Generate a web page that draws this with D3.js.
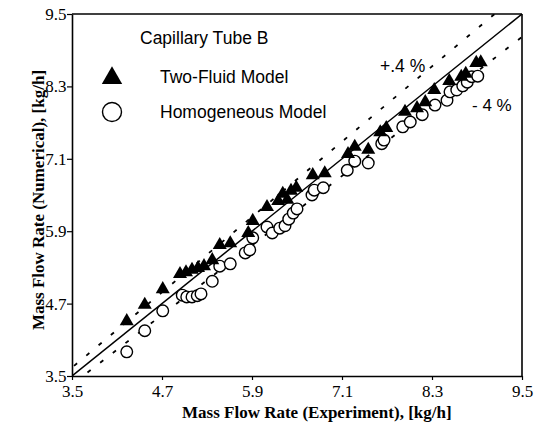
<!DOCTYPE html>
<html><head><meta charset="utf-8">
<script src="https://cdn.jsdelivr.net/npm/d3@7"></script>
<style>body{margin:0;background:#fff}</style>
</head><body>
<script>
const tickValues = [3.5, 4.7, 5.9, 7.1, 8.3, 9.5];
const tickLabels = ["3.5", "4.7", "5.9", "7.1", "8.3", "9.5"];
const twoFluidExp = [4.23,4.47,4.71,4.94,5.02,5.10,5.18,5.26,5.37,5.47,5.61,5.85,5.91,6.10,6.25,6.31,6.37,6.42,6.49,6.71,6.87,7.18,7.27,7.45,7.61,7.69,7.94,8.10,8.21,8.33,8.53,8.69,8.75,8.89,8.95];
const twoFluidNum = [4.41,4.68,4.94,5.19,5.22,5.26,5.29,5.32,5.42,5.67,5.70,5.87,6.07,6.30,6.40,6.52,6.42,6.57,6.62,6.83,6.86,7.18,7.30,7.25,7.54,7.61,7.88,7.94,8.04,8.24,8.39,8.46,8.51,8.69,8.70];
const homogExp = [4.23,4.47,4.71,4.97,5.03,5.10,5.17,5.22,5.37,5.47,5.61,5.81,5.87,5.91,6.10,6.17,6.27,6.34,6.39,6.45,6.50,6.70,6.73,6.85,7.17,7.27,7.45,7.63,7.66,7.91,8.01,8.17,8.34,8.50,8.54,8.63,8.71,8.77,8.83,8.91];
const homogNum = [3.90,4.25,4.58,4.84,4.81,4.81,4.83,4.86,5.07,5.32,5.36,5.54,5.59,5.79,5.97,5.87,5.95,5.99,6.10,6.20,6.27,6.50,6.58,6.62,6.91,7.06,7.03,7.35,7.41,7.63,7.71,7.83,7.99,8.07,8.21,8.24,8.31,8.37,8.46,8.47];
const bandFactors = [1.04, 0.96];

const W = 540, H = 438;
const m = {left: 72, right: 18, top: 14, bottom: 62};
const svg = d3.select("body").append("svg").attr("width", W).attr("height", H);
const x = d3.scaleLinear().domain([3.5, 9.5]).range([m.left, W - m.right]);
const y = d3.scaleLinear().domain([3.5, 9.5]).range([H - m.bottom, m.top]);

svg.append("clipPath").attr("id", "clip").append("rect")
  .attr("x", m.left).attr("y", m.top).attr("width", x(9.5) - m.left).attr("height", y(3.5) - m.top);

const serif = "'Liberation Serif','Times New Roman',serif";
const sans = "'Liberation Sans',Arial,Helvetica,sans-serif";

// reference lines
const lineG = svg.append("g").attr("clip-path", "url(#clip)");
lineG.append("line").attr("x1", x(3.5)).attr("y1", y(3.5)).attr("x2", x(9.5)).attr("y2", y(9.5))
  .attr("stroke", "#000").attr("stroke-width", 1.5);
bandFactors.forEach(f => {
  lineG.append("line").attr("x1", x(3.2)).attr("y1", y(3.2 * f)).attr("x2", x(9.8)).attr("y2", y(9.8 * f))
    .attr("stroke", "#000").attr("stroke-width", 1.8).attr("stroke-dasharray", "4,12");
});

// axes
const xAxis = d3.axisBottom(x).tickValues(tickValues).tickFormat((d, i) => tickLabels[i]).tickSize(4).tickSizeOuter(0);
const yAxis = d3.axisLeft(y).tickValues(tickValues).tickFormat((d, i) => tickLabels[i]).tickSize(5).tickSizeOuter(0);
const gx = svg.append("g").attr("transform", `translate(0,${y(3.5)})`).call(xAxis);
const gy = svg.append("g").attr("transform", `translate(${x(3.5)},0)`).call(yAxis);
[gx, gy].forEach(g => {
  g.select(".domain").attr("stroke", "#000").attr("stroke-width", 1.6);
  g.selectAll(".tick line").attr("stroke", "#000").attr("stroke-width", 1.2);
  g.selectAll(".tick text").attr("font-family", serif).attr("font-size", 17).attr("fill", "#000");
});
gx.selectAll(".tick text").attr("dy", "0.85em");
gy.selectAll(".tick text").attr("dx", "0.15em");
// top and right frame
svg.append("line").attr("x1", x(3.5)).attr("y1", y(9.5)).attr("x2", x(9.5)).attr("y2", y(9.5)).attr("stroke", "#000").attr("stroke-width", 1.6);
svg.append("line").attr("x1", x(9.5)).attr("y1", y(9.5)).attr("x2", x(9.5)).attr("y2", y(3.5)).attr("stroke", "#000").attr("stroke-width", 1.6);

// axis titles
svg.append("text").attr("x", 182).attr("y", 418).attr("font-family", serif).attr("font-size", 17).attr("font-weight", "bold").attr("fill", "#000")
  .text("Mass Flow Rate (Experiment), [kg/h]");
svg.append("text").attr("transform", "translate(44,200) rotate(-90)").attr("text-anchor", "middle")
  .attr("font-family", serif).attr("font-size", 17).attr("font-weight", "bold").attr("fill", "#000")
  .text("Mass Flow Rate (Numerical), [kg/h]");

// data
const homog = homogExp.map((v, i) => [v, homogNum[i]]);
const twoF = twoFluidExp.map((v, i) => [v, twoFluidNum[i]]);
svg.append("g").selectAll("circle").data(homog).join("circle")
  .attr("cx", d => x(d[0])).attr("cy", d => y(d[1])).attr("r", 5.8)
  .attr("fill", "#fff").attr("stroke", "#000").attr("stroke-width", 1.4);
const tri = d3.symbol().type(d3.symbolTriangle).size(85);
svg.append("g").selectAll("path").data(twoF).join("path")
  .attr("d", tri).attr("transform", d => `translate(${x(d[0])},${y(d[1])})`).attr("fill", "#000");

// legend
svg.append("text").attr("x", 140).attr("y", 44).attr("font-family", sans).attr("font-size", 17.5).attr("fill", "#000").text("Capillary Tube B");
svg.append("path").attr("d", d3.symbol().type(d3.symbolTriangle).size(180)()).attr("transform", "translate(112,78)").attr("fill", "#000");
svg.append("text").attr("x", 160).attr("y", 83).attr("font-family", sans).attr("font-size", 17.5).attr("fill", "#000").text("Two-Fluid Model");
svg.append("circle").attr("cx", 112).attr("cy", 112).attr("r", 9.5).attr("fill", "#fff").attr("stroke", "#000").attr("stroke-width", 1.4);
svg.append("text").attr("x", 160).attr("y", 118).attr("font-family", sans).attr("font-size", 17.5).attr("fill", "#000").text("Homogeneous Model");

// band labels
svg.append("text").attr("x", 380).attr("y", 72).attr("font-family", sans).attr("font-size", 17.5).attr("fill", "#000").text("+.4 %");
svg.append("text").attr("x", 472).attr("y", 111).attr("font-family", sans).attr("font-size", 17).attr("fill", "#000").text("- 4 %");
</script>
</body></html>
